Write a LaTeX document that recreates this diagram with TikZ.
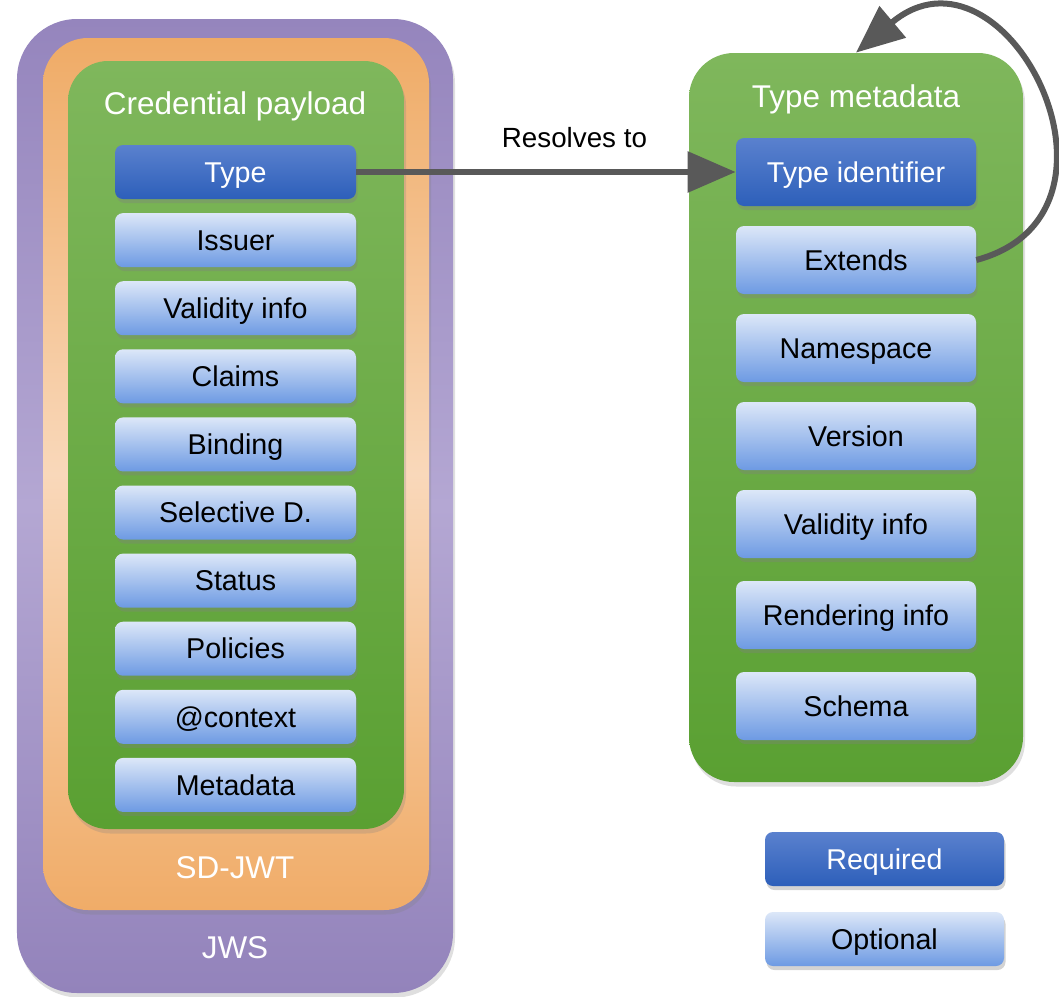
\documentclass[tikz,border=0pt]{standalone}
\usepackage{fontspec}
\setmainfont{Liberation Sans}
\usetikzlibrary{positioning,shadows,arrows.meta}

\definecolor{jwsTop}{HTML}{9585BD}
\definecolor{jwsMid}{HTML}{B4A7D3}
\definecolor{jwsBot}{HTML}{9383BB}
\definecolor{sdTop}{HTML}{EFAB66}
\definecolor{sdMid}{HTML}{F9D8BA}
\definecolor{sdBot}{HTML}{F0AC68}
\definecolor{grTop}{HTML}{7FB75C}
\definecolor{grBot}{HTML}{5AA032}
\definecolor{reqTop}{HTML}{5A81CE}
\definecolor{reqBot}{HTML}{2D5FBA}
\definecolor{optTop}{HTML}{DCE7F8}
\definecolor{optBot}{HTML}{6D9AE3}
\definecolor{linkgray}{HTML}{595959}

\newcommand{\boxfont}{\fontsize{16.3}{19}\selectfont}
\newcommand{\titlefont}{\fontsize{17.9}{21}\selectfont}

\begin{document}
\begin{tikzpicture}
\tikzset{layer/.style={rectangle, drop shadow={opacity=0.25, shadow xshift=0.4mm, shadow yshift=-0.9mm}},
  title/.style={text=white, font=\titlefont, text height=12.8pt, text depth=0pt},
  req/.style={rectangle, rounded corners=0.16cm, minimum width=4.82cm, minimum height=1.08cm,
    top color=reqTop, bottom color=reqBot, text=white, font=\boxfont,
    text height=11.7pt, text depth=0pt,
    drop shadow={opacity=0.35, shadow xshift=0.3mm, shadow yshift=-0.8mm}},
  opt/.style={req, top color=optTop, bottom color=optBot, text=black},
  link/.style={draw=linkgray, line width=0.12cm, -{Triangle[length=0.96cm, width=0.8cm]}}}

\useasboundingbox (0,0) rectangle (21.18,-19.94);

% left: nested containers
\node[layer, minimum width=8.72cm, minimum height=19.48cm, rounded corners=1.2cm,
  top color=jwsTop, bottom color=jwsBot, middle color=jwsMid] (jws) at (4.70,-10.12) {};
\node[layer, minimum width=7.72cm, minimum height=17.44cm, rounded corners=0.9cm,
  top color=sdTop, bottom color=sdBot, middle color=sdMid] (sdjwt) at (4.72,-9.48) {};
\node[layer, minimum width=6.72cm, minimum height=15.36cm, rounded corners=0.8cm,
  top color=grTop, bottom color=grBot] (payload) at (4.72,-8.90) {};

\node[title] (payloadtitle) at (4.70,-2.06) {Credential payload};
\node[title] (sdjwtlabel) at (4.70,-17.34) {SD-JWT};
\node[title] (jwslabel) at (4.70,-18.94) {JWS};

\node[req] (type) at (4.71,-3.44) {Type};
\foreach \name/\txt [count=\i] in {issuer/Issuer, validity/Validity info, claims/Claims,
    binding/Binding, selective/Selective D., status/Status, policies/Policies,
    context/@context, metadata/Metadata}
  \node[opt] (\name) at (4.71,{-3.44-1.362*\i}) {\txt};

% right: type metadata
\node[layer, minimum width=6.68cm, minimum height=14.58cm, rounded corners=0.9cm,
  top color=grTop, bottom color=grBot] (tmeta) at (17.12,-8.35) {};
\node[title] (tmetatitle) at (17.12,-1.92) {Type metadata};

\node[req, minimum width=4.8cm, minimum height=1.36cm] (typeid) at (17.12,-3.44) {Type identifier};
\foreach \name/\txt/\y in {extends/Extends/5.20, namespace/Namespace/6.96, version/Version/8.72,
    tvalidity/Validity info/10.48, rendering/Rendering info/12.30, schema/Schema/14.12}
  \node[opt, minimum width=4.8cm, minimum height=1.36cm] (\name) at (17.12,-\y) {\txt};

% legend
\node[req, minimum width=4.78cm] (legreq) at (17.69,-17.18) {Required};
\node[opt, minimum width=4.78cm] (legopt) at (17.69,-18.78) {Optional};

% connectors
\draw[link] (type.east) -- (typeid.west)
  node[pos=0.575, above=0.3cm, text=black, font=\fontsize{15.8}{19}\selectfont] (resolves) {Resolves to};
\draw[link] (extends.east) .. controls +(15:3.6) and +(40:3.9) .. (tmeta.north);
\end{tikzpicture}
\end{document}
